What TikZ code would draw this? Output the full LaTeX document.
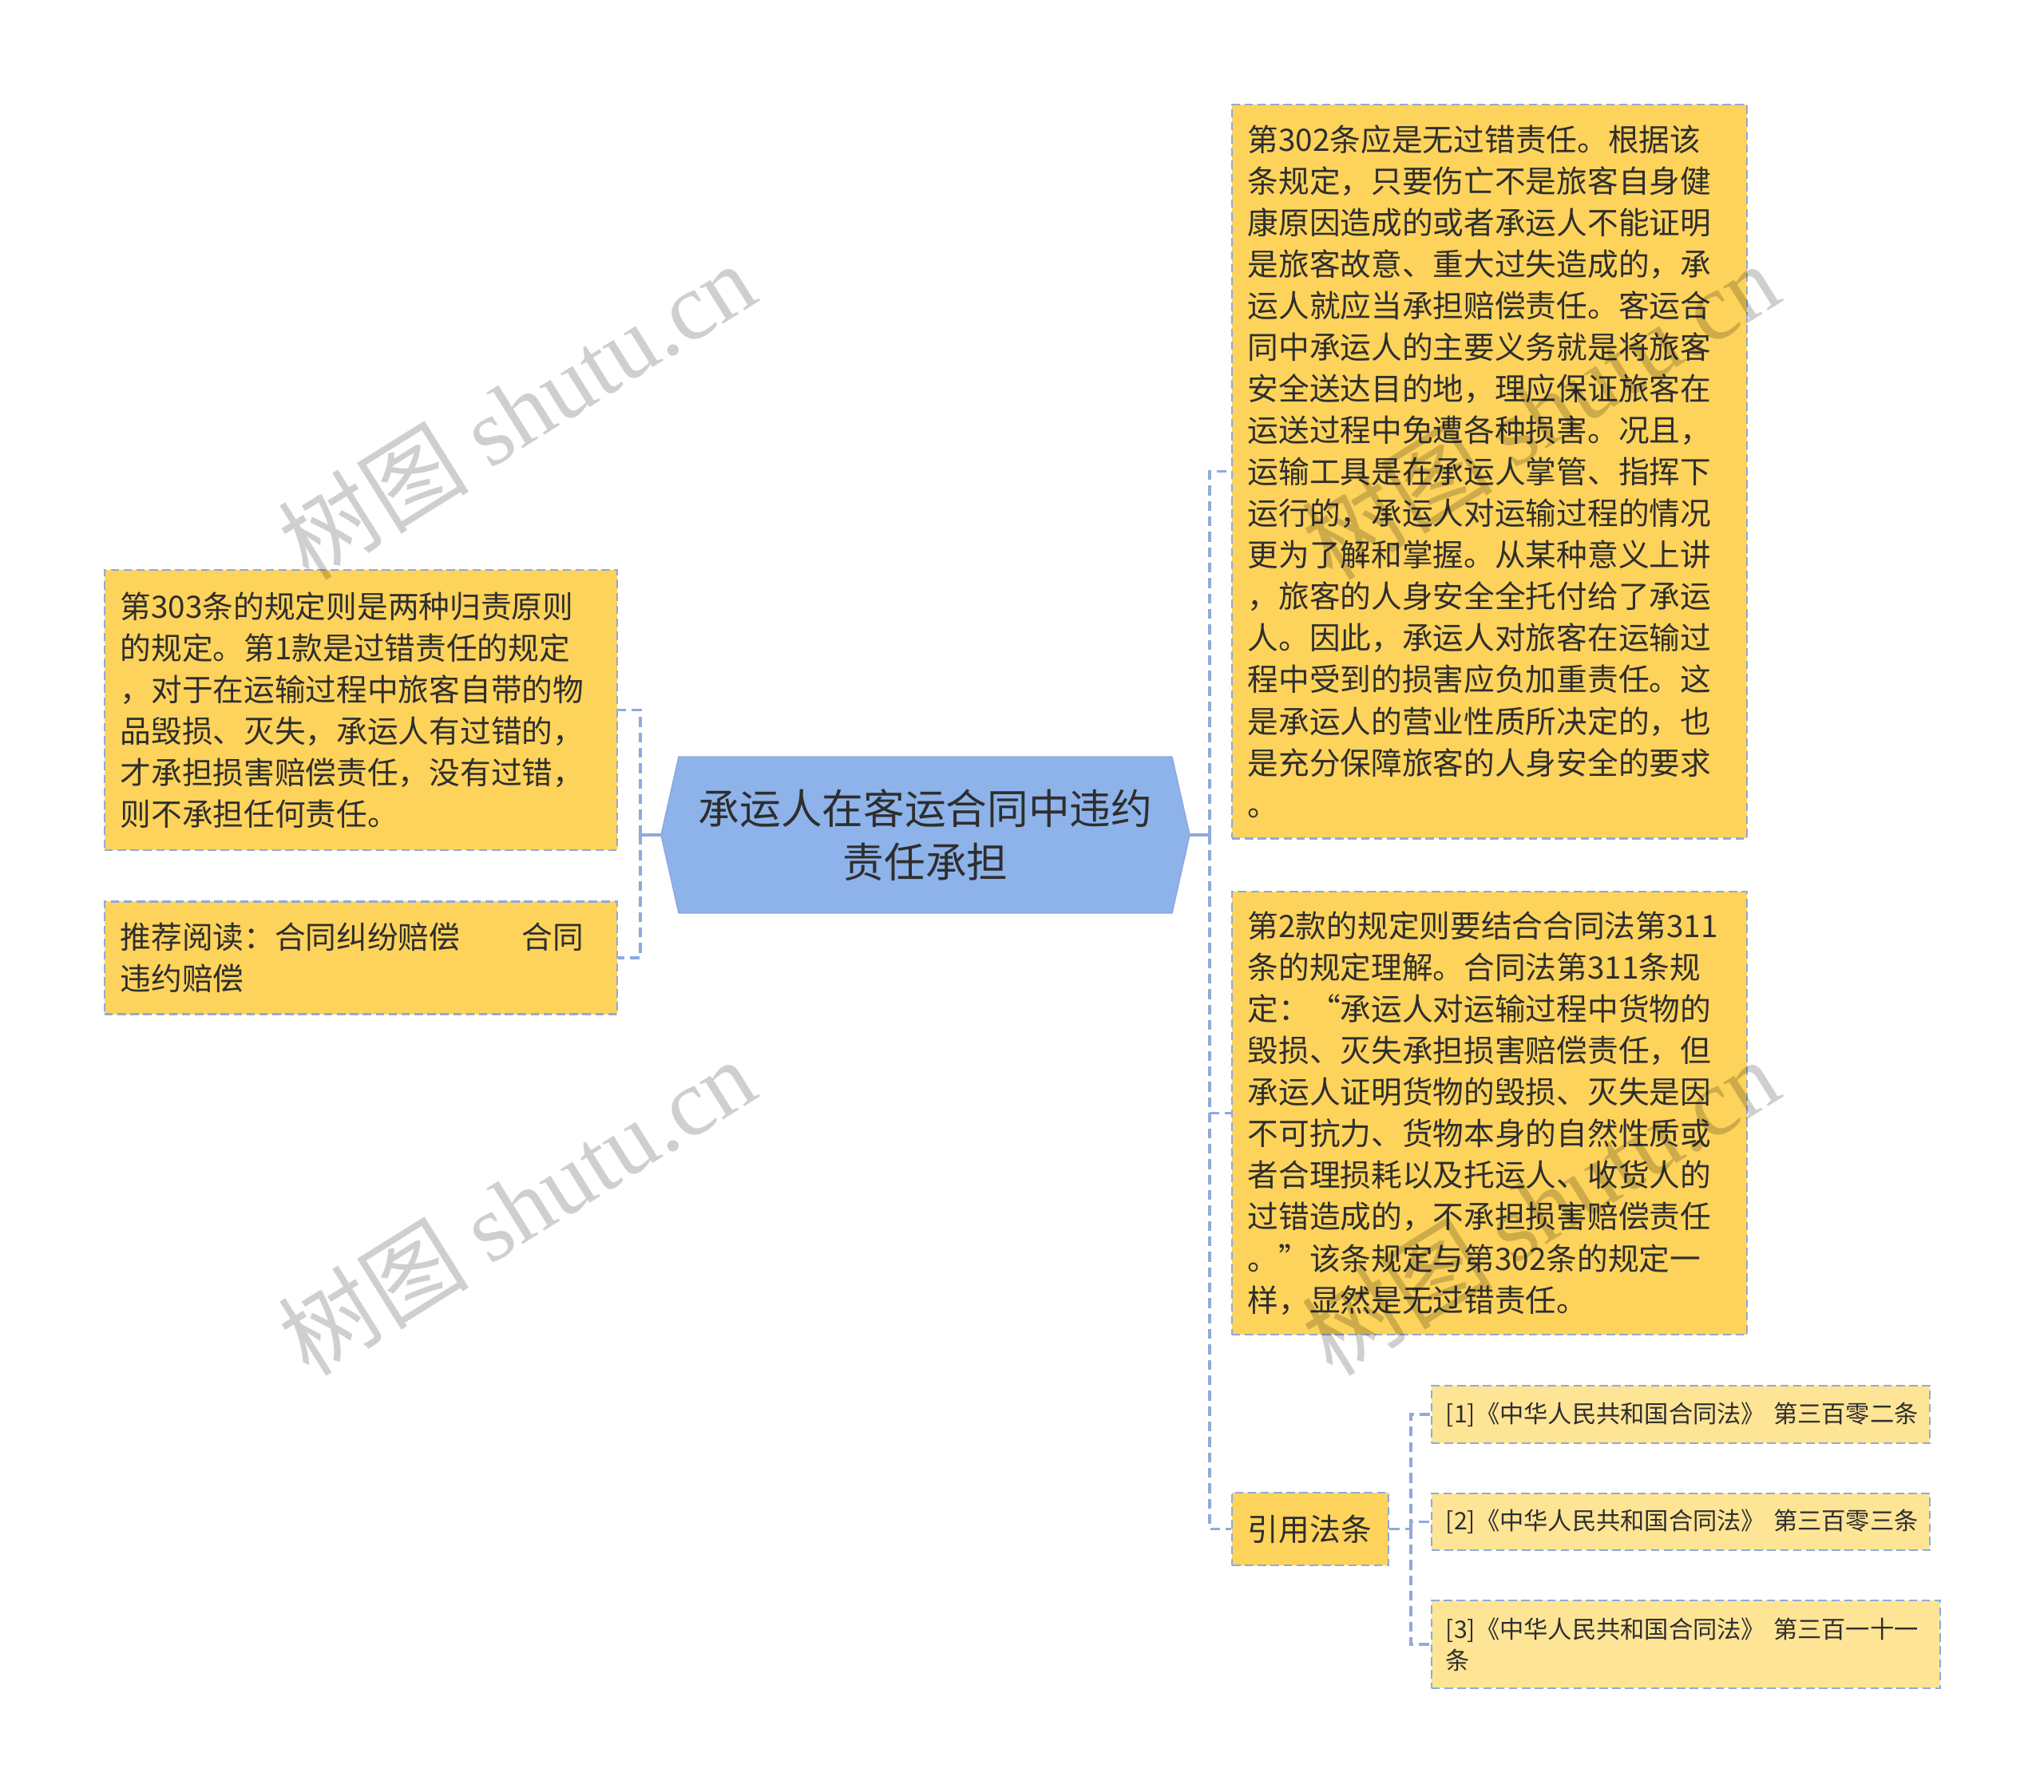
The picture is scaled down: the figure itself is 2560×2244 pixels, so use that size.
\documentclass[tikz,border=0pt]{standalone}
\usepackage{fontspec}
\setmainfont{Noto Sans CJK SC}
\newfontfamily\wmlatin{Liberation Serif}
\usetikzlibrary{backgrounds}
\definecolor{boxyellow}{HTML}{FDD35B}
\definecolor{refyellow}{HTML}{FEE596}
\definecolor{rootblue}{HTML}{8EB3EA}
\definecolor{lineblue}{HTML}{8FAADC}
\definecolor{textdark}{HTML}{2E2E2E}

\begin{document}
\begin{tikzpicture}[x=0.01cm, y=-0.01cm,
  leafbox/.style={draw=lineblue, line width=0.7pt, dash pattern=on 3pt off 1.6pt,
    fill=boxyellow, text=textdark, align=left, inner xsep=0.2cm, inner ysep=0pt,
    font=\fontsize{11pt}{14.8pt}\selectfont},
  refbox/.style={leafbox, fill=refyellow, inner xsep=0.18cm,
    font=\fontsize{8.6pt}{11.1pt}\selectfont},
  conn/.style={draw=lineblue, line width=0.9pt, dash pattern=on 3.5pt off 2pt},
  stub/.style={draw=lineblue, line width=0.9pt},
  wmark/.style={text=black, text opacity=0.19, rotate=32, font=\fontsize{34pt}{34pt}\selectfont}]
\useasboundingbox (0,0) rectangle (2560,2244);

% root
\node[text=textdark, align=center, inner sep=0pt, minimum width=6.6cm, minimum height=1.94cm,
  font=\fontsize{14.7pt}{19pt}\selectfont] (root) at (1159,1046) {承运人在客运合同中违约\\责任承担};
\begin{scope}[on background layer]
\fill[rootblue, draw=lineblue, line width=0.5pt] (root.west) -- ([xshift=0.22cm]root.north west)
  -- ([xshift=-0.22cm]root.north east) -- (root.east) -- ([xshift=-0.22cm]root.south east)
  -- ([xshift=0.22cm]root.south west) -- cycle;
\end{scope}

% left side
\node[leafbox, text width=6.02cm, minimum height=3.51cm] (l1) at (452,889.5) {第303条的规定则是两种归责原则\\的规定。第1款是过错责任的规定\\，对于在运输过程中旅客自带的物\\品毁损、灭失，承运人有过错的，\\才承担损害赔偿责任，没有过错，\\则不承担任何责任。};
\node[leafbox, text width=6.02cm, minimum height=1.41cm] (l2) at (452,1200) {推荐阅读：合同纠纷赔偿\hspace{2em}合同\\违约赔偿};

% right side
\node[leafbox, text width=6.05cm, minimum height=9.19cm] (r1) at (1865.5,590.5) {第302条应是无过错责任。根据该\\条规定，只要伤亡不是旅客自身健\\康原因造成的或者承运人不能证明\\是旅客故意、重大过失造成的，承\\运人就应当承担赔偿责任。客运合\\同中承运人的主要义务就是将旅客\\安全送达目的地，理应保证旅客在\\运送过程中免遭各种损害。况且，\\运输工具是在承运人掌管、指挥下\\运行的，承运人对运输过程的情况\\更为了解和掌握。从某种意义上讲\\，旅客的人身安全全托付给了承运\\人。因此，承运人对旅客在运输过\\程中受到的损害应负加重责任。这\\是承运人的营业性质所决定的，也\\是充分保障旅客的人身安全的要求\\。};
\node[leafbox, text width=6.05cm, minimum height=5.55cm] (r2) at (1865.5,1394.5) {第2款的规定则要结合合同法第311\\条的规定理解。合同法第311条规\\定：“承运人对运输过程中货物的\\毁损、灭失承担损害赔偿责任，但\\承运人证明货物的毁损、灭失是因\\不可抗力、货物本身的自然性质或\\者合理损耗以及托运人、收货人的\\过错造成的，不承担损害赔偿责任\\。”该条规定与第302条的规定一\\样，显然是无过错责任。};
\node[leafbox, text width=1.56cm, minimum height=0.91cm] (law) at (1641,1915.5) {引用法条};

% cited articles
\node[refbox, text width=5.88cm, minimum height=0.72cm] (ref1) at (2105,1772) {\mbox{[1]《中华人民共和国合同法》~第三百零二条}};
\node[refbox, text width=5.88cm, minimum height=0.71cm] (ref2) at (2105,1906.5) {\mbox{[2]《中华人民共和国合同法》~第三百零三条}};
\node[refbox, text width=6.01cm, minimum height=1.10cm] (ref3) at (2111.5,2060) {\mbox{[3]《中华人民共和国合同法》~第三百一十一}\\条};

% connectors
\coordinate (lj) at (802,1046);
\coordinate (rj) at (1515,1046);
\coordinate (sj) at (1767,1915.5);
\draw[stub] (root.west) -- (lj);
\draw[conn] (lj) |- (l1.east);
\draw[conn] (lj) |- (l2.east);
\draw[stub] (root.east) -- (rj);
\draw[conn] (rj) |- (r1.west);
\draw[conn] (rj) |- (r2.west);
\draw[conn] (rj) |- (law.west);
\draw[conn] (law.east) -- (sj);
\draw[conn] (sj) |- (ref1.west);
\draw[conn] (sj) |- (ref2.west);
\draw[conn] (sj) |- (ref3.west);

% watermark
\foreach \wx/\wy [count=\i] in {647/514, 647/1511, 1929/514, 1929/1511}
  \node[wmark] (wm\i) at (\wx,\wy) {树图 {\wmlatin shutu.cn}};
\end{tikzpicture}
\end{document}
